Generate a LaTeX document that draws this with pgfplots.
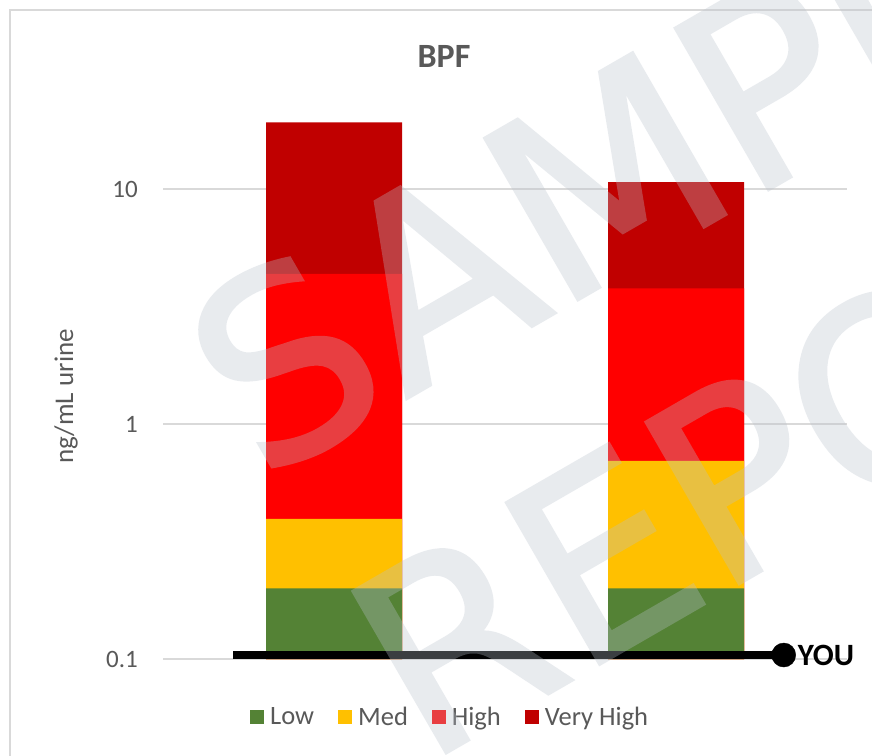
\documentclass[border=0pt]{standalone}
\usepackage{pgfplots}
\pgfplotsset{compat=1.18}
\usepackage{fontspec}
\setmainfont{Carlito}
\newfontfamily\wmfont[FakeBold=1.5]{DejaVu Sans}
\definecolor{txt}{HTML}{595959}
\definecolor{gridc}{HTML}{D9D9D9}
\definecolor{lowc}{HTML}{548235}
\definecolor{medc}{HTML}{FFC000}
\definecolor{highc}{HTML}{FF0000}
\definecolor{vhc}{HTML}{C00000}
\definecolor{wm}{RGB}{186,193,204}

\begin{document}
\begin{tikzpicture}
\useasboundingbox (0pt,0pt) rectangle (872pt,755pt);
\fill[white] (0pt,0pt) rectangle (872pt,755pt);
\draw[gridc, line width=1.5pt] (10pt,-20pt) rectangle (900pt,745pt);
\begin{axis}[
  at={(163pt,96pt)}, anchor=south west,
  scale only axis, width=684pt, height=540.7pt,
  ymode=log, ymin=0.1, ymax=20, xmin=-0.5, xmax=1.5,
  log origin=infty,
  axis line style={draw=none},
  xtick=\empty,
  ytick={0.1,1,10}, yticklabels={0.1,1,10},
  yminorticks=false,
  tick style={draw=none},
  ymajorgrids, major grid style={gridc, line width=1.5pt},
  major tick length=0pt,
  yticklabel style={font=\fontsize{25}{30}\selectfont, text=txt, anchor=east, inner sep=0pt, xshift=-25pt},
  clip=false,
  bars/.style={ybar, bar width=136pt, bar shift=0pt, draw=none, fill=#1,
    legend image code/.code={\fill[fill=#1] (0pt,-7.5pt) rectangle (14pt,6.5pt);}},
  legend columns=-1,
  reverse legend,
  legend style={at={(rel axis cs:0.1228,-0.1068)}, anchor=west, draw=none, fill=none,
    font=\fontsize{26.5}{32}\selectfont, text=txt,
    nodes={inner sep=0pt},
    /tikz/every odd column/.style={column sep=6pt},
    /tikz/every even column/.style={column sep=24pt}},
]
% cumulative tops of each stacked segment
\addplot[bars=vhc] coordinates {(0,19.2) (1,10.7)};
\addlegendentry{Very High}
\addplot[bars=highc] coordinates {(0,4.35) (1,3.78)};
\addlegendentry{High}
\addplot[bars=medc] coordinates {(0,0.395) (1,0.697)};
\addlegendentry{Med}
\addplot[bars=lowc] coordinates {(0,0.2) (1,0.2)};
\addlegendentry{Low}
% YOU marker line
\addplot[black, line width=8pt, forget plot] coordinates {(-0.295,0.104) (1.315,0.104)};
\addplot[black, only marks, mark=*, mark size=12pt, forget plot] coordinates {(1.315,0.104)};
\node[anchor=west, inner sep=0pt, xshift=14pt, font=\bfseries\fontsize{31}{37}\selectfont, text=black] at (axis cs:1.315,0.104) {YOU};
\node[anchor=base, yshift=50.6pt, font=\bfseries\fontsize{34}{40}\selectfont, text=txt] at (rel axis cs:0.4108,1) {BPF};
\node[rotate=90, font=\fontsize{27}{32}\selectfont, text=txt] at (rel axis cs:-0.1418,0.4855) {ng/mL urine};
\end{axis}
% watermark
\begin{scope}[transparency group, opacity=0.32]
\node[rotate=30, anchor=base west, inner sep=0pt, text=wm, font=\wmfont\fontsize{255}{300}\selectfont] at (261pt,272.6pt) {SAMPLE};
\node[rotate=30, anchor=base west, inner sep=0pt, text=wm, font=\wmfont\fontsize{255}{300}\selectfont] at (424.5pt,-10pt) {REPORT};
\end{scope}
\end{tikzpicture}
\end{document}
